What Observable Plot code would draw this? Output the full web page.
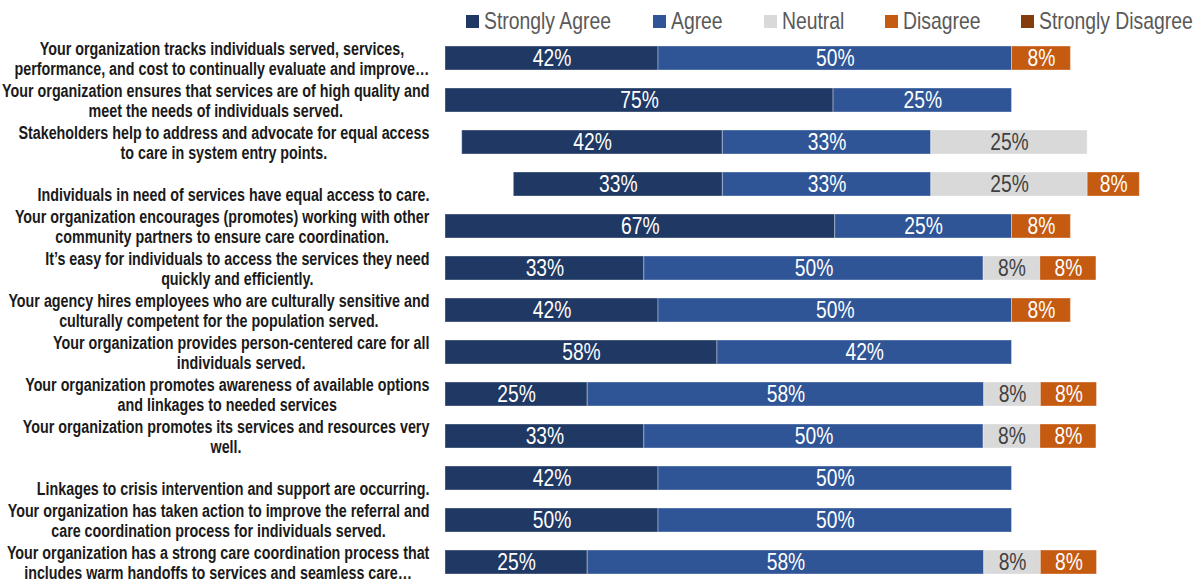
<!DOCTYPE html>
<html>
<head>
<meta charset="utf-8">
<script src="https://cdn.jsdelivr.net/npm/d3@7"></script>
<script src="https://cdn.jsdelivr.net/npm/@observablehq/plot@0.6"></script>
<style>
  html, body { margin: 0; padding: 0; background: #ffffff; }
  body { width: 1194px; height: 584px; overflow: hidden; font-family: "Liberation Sans", Arial, sans-serif; }
  #legend { box-sizing: border-box; height: 36px; padding-top: 6px; padding-left: 466px; display: flex; align-items: center; gap: 41px; }
  .item { display: flex; align-items: center; height: 30px; font-size: 23.6px; color: #595959; white-space: nowrap; }
  .sw { width: 13px; height: 13px; margin-right: 5px; flex: none; }
  .lt { display: inline-block; overflow: visible; }
  .lt span { display: inline-block; transform-origin: 0 50%; }
  #chart svg { display: block; }
</style>
</head>
<body>
<div id="legend"></div>
<div id="chart"></div>
<script>
// ---------- data ----------
const questions = [
  "Your organization tracks individuals served, services,\nperformance, and cost to continually evaluate and improve…",
  "Your organization ensures that services are of high quality and\nmeet the needs of individuals served.",
  "Stakeholders help to address and advocate for equal access\nto care in system entry points.",
  "Individuals in need of services have equal access to care.",
  "Your organization encourages (promotes) working with other\ncommunity partners to ensure care coordination.",
  "It’s easy for individuals to access the services they need\nquickly and efficiently.",
  "Your agency hires employees who are culturally sensitive and\nculturally competent for the population served.",
  "Your organization provides person-centered care for all\nindividuals served.",
  "Your organization promotes awareness of available options\nand linkages to needed services",
  "Your organization promotes its services and resources very\nwell.",
  "Linkages to crisis intervention and support are occurring.",
  "Your organization has taken action to improve the referral and\ncare coordination process for individuals served.",
  "Your organization has a strong care coordination process that\nincludes warm handoffs to services and seamless care…"
];
const responses = ["Strongly Agree", "Agree", "Neutral", "Disagree", "Strongly Disagree"];
const responseColors = ["#203864", "#2f5597", "#d9d9d9", "#c55a11", "#843c0c"];

// percentages printed on the bars
const pctStronglyAgree    = [42, 75, 42, 33, 67, 33, 42, 58, 25, 33, 42, 50, 25];
const pctAgree            = [50, 25, 33, 33, 25, 50, 50, 42, 58, 50, 50, 50, 58];
const pctNeutral          = [ 0,  0, 25, 25,  0,  8,  0,  0,  8,  8,  0,  0,  8];
const pctDisagree         = [ 8,  0,  0,  8,  8,  8,  8,  0,  8,  8,  0,  0,  8];
const pctStronglyDisagree = [ 0,  0,  0,  0,  0,  0,  0,  0,  0,  0,  0,  0,  0];

// bar segment lengths as drawn in the picture (x-axis units)
const lenOffset           = [ 0,    0,    2.95, 12.06, 0,    0,    0,    0,    0,    0,    0,    0,    0   ];
const lenStronglyAgree    = [37.6, 68.5, 46.0, 36.9, 68.8, 35.1, 37.6, 48.0, 25.1, 35.1, 37.6, 37.6, 25.1];
const lenAgree            = [62.4, 31.5, 36.8, 36.8, 31.2, 59.9, 62.4, 52.0, 70.0, 59.9, 62.4, 62.4, 70.0];
const lenNeutral          = [ 0,    0,   27.6, 27.6,  0,   10.0,  0,    0,   10.0, 10.0,  0,    0,   10.0];
const lenDisagree         = [10.4,  0,    0,    9.2, 10.4,  9.9, 10.4,  0,    9.9,  9.9,  0,    0,    9.9];
const lenStronglyDisagree = [ 0,    0,    0,    0,    0,    0,    0,    0,    0,    0,    0,    0,    0  ];

// ---------- build ----------
const FONT = '"Liberation Sans", Arial, sans-serif';
const NARROW = 0.82;        // horizontal glyph compression (narrow face)
const LABEL_NARROW = 0.795; // for the question labels
const pct = [pctStronglyAgree, pctAgree, pctNeutral, pctDisagree, pctStronglyDisagree];
const len = [lenStronglyAgree, lenAgree, lenNeutral, lenDisagree, lenStronglyDisagree];

const segments = [];
questions.forEach((q, i) => {
  let x = lenOffset[i];
  responses.forEach((r, k) => {
    const w = len[k][i];
    if (w > 0) {
      segments.push({i, response: r, x1: x, x2: x + w, label: pct[k][i] + "%"});
      x += w;
    }
  });
});

const xOpts = {domain: [0, 100], range: [445, 1011.5]};
const xs = Plot.scale({x: xOpts});

const ctx = document.createElement("canvas").getContext("2d");
const labelSize = 18;
const labelRight = 429;
ctx.font = `bold ${labelSize}px ${FONT}`;
const qLabels = questions.map((q, i) => {
  const lines = q.split("\n");
  const w = LABEL_NARROW * Math.max(...lines.map(l => ctx.measureText(l).width));
  return {i, text: q, lines: lines.length, x: xs.invert(labelRight - w / 2)};
});

// legend
const legend = document.getElementById("legend");
ctx.font = `23.6px ${FONT}`;
responses.forEach((r, k) => {
  const it = document.createElement("div");
  it.className = "item";
  const sw = document.createElement("span");
  sw.className = "sw";
  sw.style.background = responseColors[k];
  it.appendChild(sw);
  const lt = document.createElement("span");
  lt.className = "lt";
  lt.style.width = (NARROW * ctx.measureText(r).width) + "px";
  const inner = document.createElement("span");
  inner.textContent = r;
  inner.style.transform = `scaleX(${NARROW})`;
  lt.appendChild(inner);
  it.appendChild(lt);
  legend.appendChild(it);
});

const labelStyle = {x: "x", y: "i", text: "text", textAnchor: "middle", lineAnchor: "middle",
  lineHeight: 1.14, fontSize: labelSize, fontWeight: "bold", fill: "#1a1a1a", fontFamily: FONT};

const chart = Plot.plot({
  width: 1194,
  height: 548,
  marginLeft: 0, marginRight: 0, marginTop: 7.1, marginBottom: 6.5,
  style: {fontFamily: FONT, background: "#ffffff"},
  x: {...xOpts, axis: null},
  y: {domain: d3.range(questions.length), axis: null, paddingInner: 0.426, paddingOuter: 0},
  color: {domain: responses, range: responseColors},
  marks: [
    Plot.barX(segments, {x1: "x1", x2: "x2", y: "i", fill: "response", stroke: "#ffffff", strokeOpacity: 0.35, strokeWidth: 1}),
    Plot.text(segments.filter(d => d.response !== "Neutral"), {x: d => (d.x1 + d.x2) / 2, y: "i", text: "label", fill: "#ffffff", fontSize: 23.5, fontFamily: FONT}),
    Plot.text(segments.filter(d => d.response === "Neutral"), {x: d => (d.x1 + d.x2) / 2, y: "i", text: "label", fill: "#404040", fontSize: 23.5, fontFamily: FONT}),
    Plot.text(qLabels.filter(d => d.lines > 1), labelStyle),
    Plot.text(qLabels.filter(d => d.lines === 1), {...labelStyle, dy: 10})
  ]
});
// narrow the glyphs around each text's anchor point
// text groups in mark order: 0,1 = percent labels; 2,3 = question labels
chart.querySelectorAll('g[aria-label="text"]').forEach((g, gi) => {
  const s = gi < 2 ? NARROW : LABEL_NARROW;
  g.querySelectorAll("text").forEach(t => {
    const tr = t.getAttribute("transform") || "";
    t.setAttribute("transform", `${tr} scale(${s},1)`);
  });
});
document.getElementById("chart").appendChild(chart);
</script>
</body>
</html>
